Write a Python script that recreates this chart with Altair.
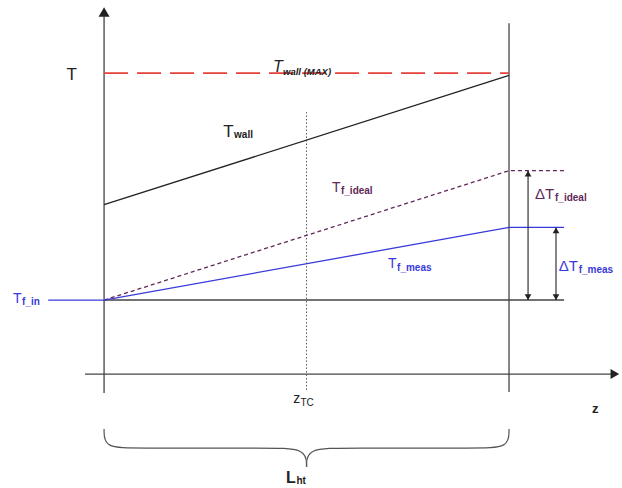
import altair as alt
import pandas as pd

# Axial position, normalised by the heated length L_ht (0 = inlet, 1 = outlet)
Z_IN, Z_TC, Z_OUT = 0.0, 0.5, 1.0
Z_STUB = -0.138       # start of the inlet temperature stub
Z_EXT = 1.136         # end of the outlet reference lines
Z_DT_IDEAL = 1.047    # ideal temperature-rise arrow
Z_DT_MEAS = 1.116     # measured temperature-rise arrow

# Temperatures, normalised: 0 = fluid inlet, 1 = maximum wall temperature
T_IN = 0.0
T_WALL_MAX = 1.0
T_WALL = [0.42, 0.99]
T_IDEAL_OUT = 0.57
T_MEAS_OUT = 0.32

# Frame of the sketch
T_ZAXIS = -0.326
Z_AXIS_RANGE = [-0.047, 1.272]
T_AXIS_RANGE = [-0.41, 1.29]
T_OUTLET_RANGE = [-0.405, 1.22]
T_TC_RANGE = [-0.396, 0.828]
X_DOMAIN = [-0.257, 1.279]
Y_DOMAIN = [-0.828, 1.322]

# Curly brace under the heated length
BRACE_Z = [0.0, 0.0, 0.08, 0.40, 0.5, 0.5]
BRACE_T = [-0.568, -0.652, -0.652, -0.652, -0.652, -0.736]

# Label pieces: main symbols and their subscripts
LABEL_TEXT = ["T", "T", "wall (MAX)", "T", "wall", "T", "f_ideal", "T", "f_meas",
              "ΔT", "f_ideal", "ΔT", "f_meas", "T", "f_in", "z", "TC", "z", "L", "ht"]
LABEL_Z = [-0.093, 0.417, 0.442, 0.294, 0.321, 0.563, 0.585, 0.701, 0.7235,
           1.064, 1.1136, 1.123, 1.172, -0.225, -0.2025, 0.467, 0.485, 1.205, 0.449, 0.475]
LABEL_T = [0.969, 1.004, 0.991, 0.718, 0.714, 0.476, 0.467, 0.141, 0.128,
           0.445, 0.436, 0.128, 0.119, -0.013, -0.022, -0.454, -0.467, -0.498, -0.806, -0.811]
LABEL_SIZE = [17, 16, 9.5, 17, 10, 14, 10, 14, 10,
              15, 10, 15, 10, 14, 10, 14, 10, 13, 16, 10]
LABEL_STYLE = ["normal", "italic", "bolditalic", "normal", "bold", "normal", "bold", "normal", "bold",
               "normal", "bold", "normal", "bold", "normal", "bold", "normal", "normal", "bold", "bold", "bold"]

BLACK = "#222222"
AXIS = "#444444"
RED = "#e5413b"
BLUE = "#3a3adb"
PURPLE = "#62285a"
LABEL_COLOR = [BLACK, BLACK, BLACK, BLACK, BLACK, PURPLE, PURPLE, BLUE, BLUE,
               PURPLE, PURPLE, BLUE, BLUE, BLUE, BLUE, BLACK, BLACK, BLACK, BLACK, BLACK]

FONT = "Liberation Sans"

xs = alt.Scale(domain=X_DOMAIN, nice=False, zero=False)
ys = alt.Scale(domain=Y_DOMAIN, nice=False, zero=False)


def X(f="z"):
    return alt.X(f, type="quantitative", scale=xs, axis=None)


def Y(f="T"):
    return alt.Y(f, type="quantitative", scale=ys, axis=None)


def seg(z, t):
    return pd.DataFrame({"z": z, "T": t, "i": range(len(z))})


def line(df, color, width=1.3, dash=None, interpolate="linear"):
    kw = dict(color=color, strokeWidth=width, interpolate=interpolate, strokeCap="butt")
    if dash:
        kw["strokeDash"] = dash
    return alt.Chart(df).mark_line(**kw).encode(x=X(), y=Y(), order="i:Q")


def vrule(z, t0, t1, color=AXIS, width=1.3, dash=None):
    df = pd.DataFrame({"z": [z], "T": [t0], "T2": [t1]})
    kw = dict(color=color, strokeWidth=width)
    if dash:
        kw["strokeDash"] = dash
    return alt.Chart(df).mark_rule(**kw).encode(x=X(), y=Y(), y2="T2")


def head(z, t, shape, size, xoff=0.0, yoff=0.0):
    df = pd.DataFrame({"z": [z], "T": [t]})
    return alt.Chart(df).mark_point(shape=shape, size=size, filled=True, opacity=1,
                                    color=BLACK, strokeWidth=0,
                                    xOffset=xoff, yOffset=yoff).encode(x=X(), y=Y())


layers = []

# Axes and section boundaries
layers.append(vrule(Z_IN, T_AXIS_RANGE[0], T_AXIS_RANGE[1] - 0.04))
layers.append(head(Z_IN, T_AXIS_RANGE[1], "triangle-up", 120, yoff=4.7))
zaxis = pd.DataFrame({"z": [Z_AXIS_RANGE[0]], "z2": [Z_AXIS_RANGE[1] - 0.02], "T": [T_ZAXIS]})
layers.append(alt.Chart(zaxis).mark_rule(color=AXIS, strokeWidth=1.3)
              .encode(x=X(), x2="z2", y=Y()))
layers.append(head(Z_AXIS_RANGE[1], T_ZAXIS, "triangle-right", 100, xoff=-4.3))
layers.append(vrule(Z_OUT, T_OUTLET_RANGE[0], T_OUTLET_RANGE[1]))
layers.append(vrule(Z_TC, T_TC_RANGE[0], T_TC_RANGE[1], color="#555555", width=1, dash=[1.5, 2]))

# Reference level at inlet temperature
layers.append(line(seg([Z_IN, Z_EXT], [T_IN, T_IN]), AXIS, width=1.5))

# Wall temperature: maximum and actual profile
layers.append(line(seg([Z_IN, Z_OUT], [T_WALL_MAX, T_WALL_MAX]), RED, width=1.8, dash=[24, 9]))
layers.append(line(seg([Z_IN, Z_OUT], T_WALL), BLACK, width=1.3))

# Fluid temperature: ideal and measured
layers.append(line(seg([Z_IN, Z_OUT, Z_EXT], [T_IN, T_IDEAL_OUT, T_IDEAL_OUT]), PURPLE, dash=[4, 3]))
layers.append(line(seg([Z_IN, Z_OUT, Z_EXT], [T_IN, T_MEAS_OUT, T_MEAS_OUT]), BLUE))
layers.append(line(seg([Z_STUB, Z_IN], [T_IN, T_IN]), BLUE))

# Temperature-rise arrows
for zz, top in [(Z_DT_IDEAL, T_IDEAL_OUT), (Z_DT_MEAS, T_MEAS_OUT)]:
    layers.append(vrule(zz, T_IN, top, color=BLACK, width=1.1))
    layers.append(head(zz, top, "triangle-up", 45, yoff=2.9))
    layers.append(head(zz, T_IN, "triangle-down", 45, yoff=-2.9))

# Brace spanning the heated length
layers.append(line(seg(BRACE_Z, BRACE_T), "#555555", width=1.2, interpolate="basis"))
layers.append(line(seg([1 - z for z in BRACE_Z], BRACE_T), "#555555", width=1.2, interpolate="basis"))

# Labels
labels = pd.DataFrame({"text": LABEL_TEXT, "z": LABEL_Z, "T": LABEL_T, "size": LABEL_SIZE,
                       "style": LABEL_STYLE, "color": LABEL_COLOR})
style_props = {
    "normal": dict(fontStyle="normal", fontWeight="normal"),
    "italic": dict(fontStyle="italic", fontWeight="normal"),
    "bold": dict(fontStyle="normal", fontWeight="bold"),
    "bolditalic": dict(fontStyle="italic", fontWeight="bold"),
}
for style, props in style_props.items():
    sub = labels[labels["style"] == style]
    layers.append(
        alt.Chart(sub).mark_text(align="left", baseline="alphabetic", font=FONT, **props)
        .encode(x=X(), y=Y(), text="text:N",
                size=alt.Size("size:Q", scale=None, legend=None),
                color=alt.Color("color:N", scale=None, legend=None))
    )

chart = alt.layer(*layers).properties(
    width=622, height=488, autosize=alt.AutoSizeParams(type="none"), padding=0,
    background="white",
).configure_view(stroke=None)

chart.save("out.html", embed_options={"renderer": "svg", "actions": False})
